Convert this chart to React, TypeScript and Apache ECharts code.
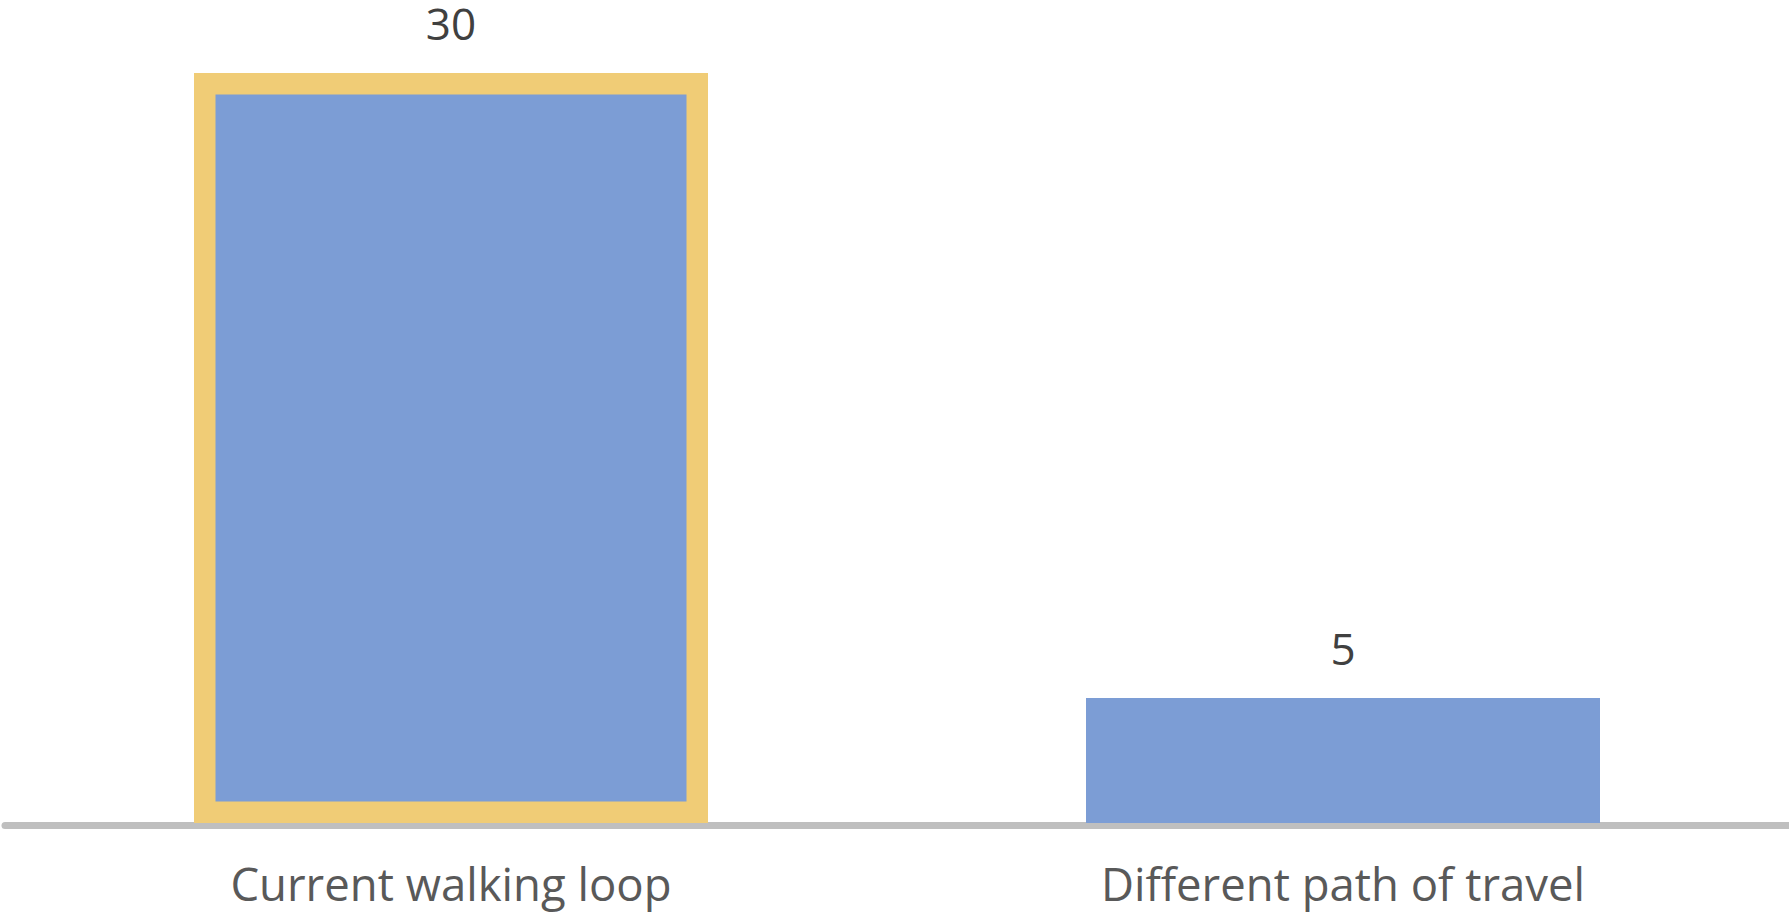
import React, { useEffect, useRef } from "react";
import * as echarts from "echarts";

const categories = ["Current walking loop", "Different path of travel"];
const values = [30, 5];
const highlighted = [true, false];

const BLUE = "#7C9DD5";
const GOLD = "#F0CC76";
const AXIS = "#BFBFBF";

export default function App() {
  const ref = useRef<HTMLDivElement>(null);
  useEffect(() => {
    if (!ref.current) return;
    const chart = echarts.init(ref.current, undefined, { renderer: "svg" });
    const data = values.map((v, i) =>
      highlighted[i]
        ? {
            value: v,
            itemStyle: { color: BLUE, borderColor: GOLD, borderWidth: 21.5 },
          }
        : { value: v, itemStyle: { color: BLUE } }
    );
    chart.setOption({
      animation: false,
      backgroundColor: "#ffffff",
      grid: { left: 5, right: -3, top: 0, bottom: 88.5, containLabel: false },
      xAxis: {
        type: "category",
        data: categories,
        axisLine: { onZero: false, lineStyle: { color: AXIS, width: 7 } },
        axisTick: { show: false },
        axisLabel: {
          color: "#595959",
          fontFamily: "Open Sans",
          fontSize: 45.5,
          lineHeight: 46,
          margin: 34.5,
        },
      },
      yAxis: {
        type: "value",
        min: -0.1,
        max: 32.92,
        show: false,
        splitLine: { show: false },
      },
      series: [
        {
          type: "bar",
          data,
          barWidth: 514,
          label: {
            show: true,
            position: "top",
            distance: 33,
            color: "#404040",
            fontFamily: "Open Sans",
            fontSize: 44,
            lineHeight: 34,
          },
        },
      ],
    });
    return () => chart.dispose();
  }, []);
  return (
    <div
      ref={ref}
      style={{ position: "fixed", left: 0, top: 0, width: 1789, height: 914, background: "#fff" }}
    />
  );
}
